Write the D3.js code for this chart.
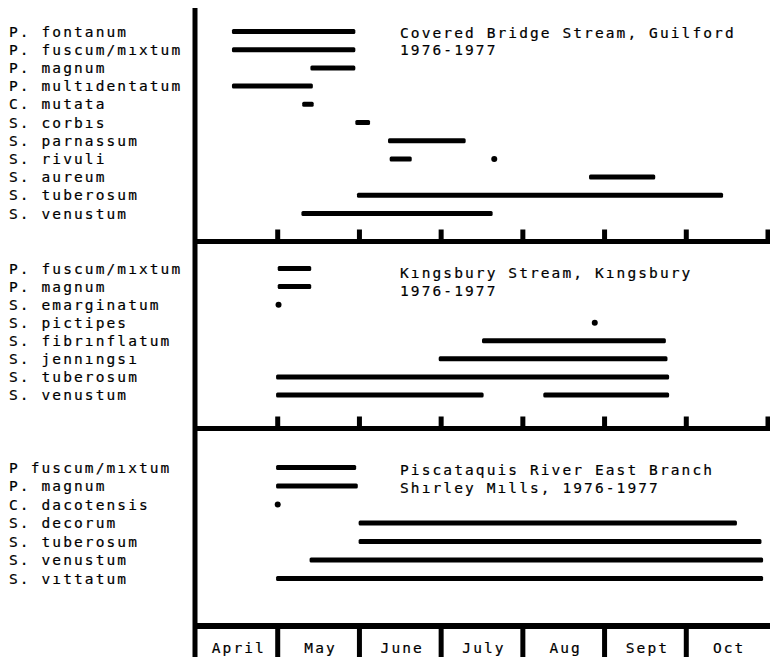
<!DOCTYPE html>
<html><head><meta charset="utf-8">
<script src="https://cdn.jsdelivr.net/npm/d3@7"></script>
<style>
html,body{margin:0;padding:0;background:#fff;}
text{font-family:"DejaVu Sans Mono",monospace;font-size:14.5px;letter-spacing:2.1px;fill:#000;stroke:#000;stroke-width:0.2px;}
</style></head>
<body><svg id="chart" width="770" height="657"></svg>
<script>
// Months (axis categories); values below are in months since April 1
const months = ["April","May","June","July","Aug","Sept","Oct"];

// Panel 1: Covered Bridge Stream, Guilford
const coveredTitle = ["Covered Bridge Stream, Guilford","1976-1977"];
const coveredSpecies = ["P. fontanum","P. fuscum/mıxtum","P. magnum","P. multıdentatum","C. mutata","S. corbıs","S. parnassum","S. rivuli","S. aureum","S. tuberosum","S. venustum"];
const coveredRanges = [
  [[0.44,1.95]],
  [[0.44,1.95]],
  [[1.40,1.95]],
  [[0.44,1.43]],
  [[1.30,1.44]],
  [[1.95,2.13]],
  [[2.35,3.30]],
  [[2.37,2.64],[3.65,3.65]],
  [[4.81,5.62]],
  [[1.97,6.45]],
  [[1.29,3.63]]
];

// Panel 2: Kingsbury Stream, Kingsbury
const kingsTitle = ["Kıngsbury Stream, Kıngsbury","1976-1977"];
const kingsSpecies = ["P. fuscum/mıxtum","P. magnum","S. emarginatum","S. pictipes","S. fibrınflatum","S. jennıngsı","S. tuberosum","S. venustum"];
const kingsRanges = [
  [[1.00,1.41]],
  [[1.00,1.41]],
  [[1.01,1.01]],
  [[4.88,4.88]],
  [[3.50,5.75]],
  [[2.97,5.77]],
  [[0.98,5.79]],
  [[0.98,3.52],[4.25,5.79]]
];

// Panel 3: Piscataquis River East Branch
const piscTitle = ["Piscataquis River East Branch","Shırley Mılls, 1976-1977"];
const piscSpecies = ["P fuscum/mıxtum","P. magnum","C. dacotensis","S. decorum","S. tuberosum","S. venustum","S. vıttatum"];
const piscRanges = [
  [[0.98,1.96]],
  [[0.98,1.98]],
  [[1.00,1.00]],
  [[1.99,6.62]],
  [[1.99,6.92]],
  [[1.39,6.94]],
  [[0.98,6.94]]
];

const svg = d3.select("#chart");
const x = d3.scaleLinear().domain([0,7]).range([196,768]);
const barH = 5;

const panels = [
  {species: coveredSpecies, ranges: coveredRanges, title: coveredTitle, rows:[31.5,213.5], titleY:[38,55], sepY:241.5, ticks:true},
  {species: kingsSpecies, ranges: kingsRanges, title: kingsTitle, rows:[268.5,395], titleY:[278,296], sepY:428.5, ticks:true},
  {species: piscSpecies, ranges: piscRanges, title: piscTitle, rows:[467.5,578.5], titleY:[475,493], sepY:626, ticks:false}
];

panels.forEach(p => {
  const y = d3.scalePoint().domain(p.species).range(p.rows);
  const g = svg.append("g");
  g.selectAll("text.lab").data(p.species).join("text")
    .attr("class","lab").attr("x",9).attr("y",d=>y(d)+5).text(d=>d);
  const segs = [];
  p.species.forEach((s,i)=>p.ranges[i].forEach(r=>segs.push({s, a:r[0], b:r[1]})));
  g.selectAll("rect.bar").data(segs.filter(d=>d.b>d.a)).join("rect")
    .attr("class","bar")
    .attr("x",d=>x(d.a)).attr("width",d=>x(d.b)-x(d.a))
    .attr("y",d=>y(d.s)-barH/2).attr("height",barH).attr("rx",1.5).attr("fill","#000");
  g.selectAll("circle.dot").data(segs.filter(d=>d.b<=d.a)).join("circle")
    .attr("class","dot").attr("cx",d=>x(d.a)).attr("cy",d=>y(d.s)).attr("r",3).attr("fill","#000");
  g.selectAll("text.tt").data(p.title).join("text")
    .attr("class","tt").attr("x",400).attr("y",(d,i)=>p.titleY[i]).text(d=>d);
  g.append("rect").attr("x",194).attr("width",576).attr("y",p.sepY-(p.ticks?2.5:3)).attr("height",p.ticks?5:6).attr("fill","#000");
  if (p.ticks) {
    g.selectAll("rect.tick").data(d3.range(1,8)).join("rect")
      .attr("class","tick").attr("x",d=>x(d)-2.5).attr("width",5)
      .attr("y",p.sepY-12).attr("height",12).attr("fill","#000");
  }
});

// left axis line
svg.append("rect").attr("x",192.5).attr("y",8).attr("width",5).attr("height",649).attr("fill","#000");

// month band
svg.selectAll("rect.mdiv").data(d3.range(1,7)).join("rect")
  .attr("class","mdiv").attr("x",d=>x(d)-2.5).attr("width",5)
  .attr("y",626).attr("height",31).attr("fill","#000");
svg.selectAll("text.month").data(months).join("text")
  .attr("class","month").attr("x",(d,i)=>(x(i)+x(i+1))/2+2).attr("y",653)
  .attr("text-anchor","middle").text(d=>d);
</script></body></html>
